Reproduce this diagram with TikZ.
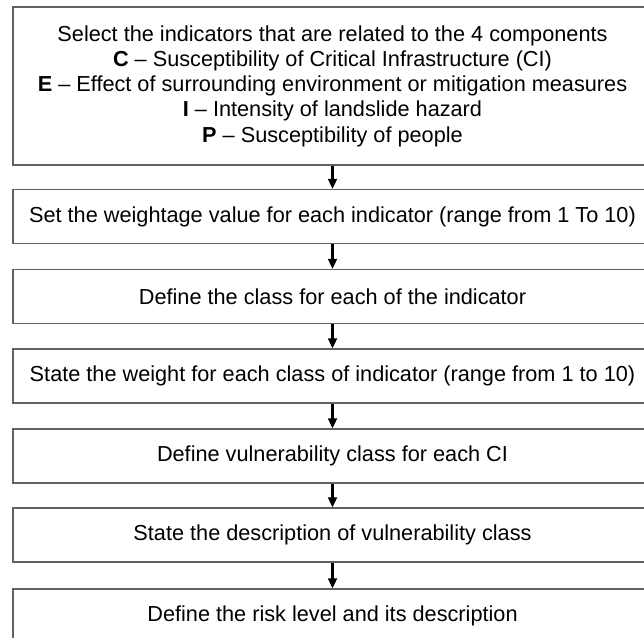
\documentclass[tikz,border=0pt]{standalone}
\usepackage{fontspec}
\setmainfont{Liberation Sans}
\usetikzlibrary{arrows.meta}

\tikzset{
  stepbox/.style={draw=black!62, line width=0.75pt, minimum width=319.5pt, minimum height=27pt,
    inner sep=0pt, align=center, font=\fontsize{10.85}{12.6}\selectfont},
  flow/.style={-{Triangle[length=5pt,width=4.5pt]}, line width=1.15pt, black}
}

\begin{document}
\begin{tikzpicture}[x=0.5pt, y=-0.5pt]
			\useasboundingbox (0,0) rectangle (644,638);
			\clip (0,0) rectangle (644,638);
			\node[stepbox, minimum height=79pt] (select) at (332.5,86) {Select the indicators that are related to the 4 components\\
				\textbf{C} -- Susceptibility of Critical Infrastructure (CI)\\
				\textbf{E} -- Effect of surrounding environment or mitigation measures\\
				\textbf{I} -- Intensity of landslide hazard\\
				\textbf{P} -- Susceptibility of people};
			\node[stepbox] (weightage) at (332.5,216.5) {Set the weightage value for each indicator (range from 1 To 10)};
			\node[stepbox] (classdef) at (332.5,296.5) {Define the class for each of the indicator};
			\node[stepbox] (classweight) at (332.5,376) {State the weight for each class of indicator (range from 1 to 10)};
			\node[stepbox] (vulclass) at (332.5,456) {Define vulnerability class for each CI};
			\node[stepbox] (vuldesc) at (332.5,535) {State the description of vulnerability class};
			\node[stepbox] (risk) at (332.5,616) {Define the risk level and its description};
			\draw[flow] (select) -- (weightage);
			\draw[flow] (weightage) -- (classdef);
			\draw[flow] (classdef) -- (classweight);
			\draw[flow] (classweight) -- (vulclass);
			\draw[flow] (vulclass) -- (vuldesc);
			\draw[flow] (vuldesc) -- (risk);
\end{tikzpicture}
\end{document}
